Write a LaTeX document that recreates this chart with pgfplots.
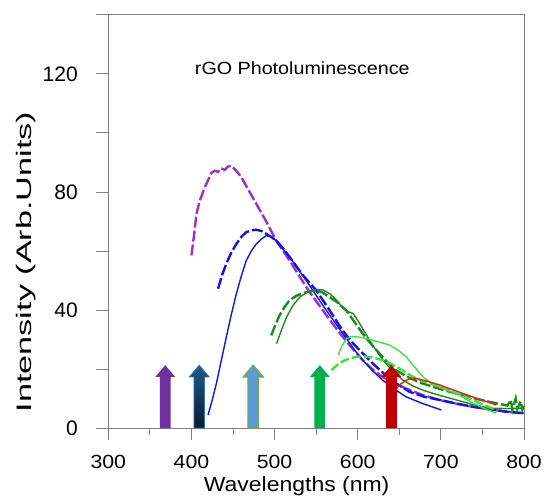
\documentclass[border=0pt]{standalone}
\usepackage{fontspec}
\setmainfont{Liberation Sans}
\newfontfamily\wide{Liberation Sans}[FakeStretch=1.12]
\usepackage{graphicx}
\usepackage{pgfplots}
\pgfplotsset{compat=1.18}
\definecolor{axgray}{HTML}{808080}
\definecolor{cpurple}{HTML}{9A2FD0}
\definecolor{cblue}{HTML}{1414E0}
\definecolor{cdgreen}{HTML}{1E8A1E}
\definecolor{clgreen}{HTML}{3FE03F}
\definecolor{cred}{HTML}{E02020}
\definecolor{apurple}{HTML}{7030A0}
\definecolor{anavyT}{HTML}{1F5A8A}
\definecolor{anavyB}{HTML}{0A1A32}
\definecolor{anavyE}{HTML}{3A75B0}
\definecolor{alblue}{HTML}{5B9BD5}
\definecolor{alborder}{HTML}{70AD47}
\definecolor{agreen}{HTML}{00B050}
\definecolor{ared}{HTML}{C00000}
\begin{document}
\begin{tikzpicture}
\begin{axis}[
  width=415.7pt, height=413pt, scale only axis,
  xmin=300, xmax=800, ymin=0, ymax=140,
  xtick={300,400,...,800}, minor xtick={350,450,...,750},
  ytick={0,20,...,140}, yticklabels={0,,40,,80,,120,},
  tick pos=left, tick align=outside,
  major tick length=12pt, minor tick length=7pt,
  axis line style={axgray, line width=1pt},
  every tick/.style={axgray, line width=1pt},
  /pgf/number format/assume math mode=true,
  xticklabel style={font=\wide\fontsize{19}{22}\selectfont, yshift=-12pt},
  yticklabel style={font=\fontsize{21}{25}\selectfont, xshift=-15pt},
  xlabel={\wide\fontsize{20.5}{24}\selectfont Wavelengths (nm)},
  xlabel style={at={(axis description cs:0.453,-0.141)}, anchor=center},
  ylabel={\scalebox{1.63}[1]{\fontsize{21}{25}\selectfont Intensity (Arb.Units)}},
  ylabel style={at={(axis description cs:-0.197,0.402)}, anchor=center},
]
% purple dashed
\addplot[cpurple, line width=2.4pt, dash pattern=on 11pt off 3pt] coordinates {
(400,58.5)(403,65)(406,72.6)(410,77)(416,81.6)(420,84)(424,86.5)(428,87.2)(432,86.8)(436,88)(440,87.5)(444,88.6)(448,88.9)(452,87.8)(456,86.5)(460,85)(467,81.5)(474,78)(482,74)(490,70)(502,63.5)(518,56.8)(528,52.3)(538,47.8)(548,43.8)(558,39.9)(570,35.3)(582,30.9)(594,26.8)(606,23)(618,19.8)(630,17.3)(644,15.2)(658,13.4)(678,11.2)(698,9.5)(718,8.3)(738,7.2)(758,6.3)(778,5.6)(798,5)
};
% blue dashed
\addplot[cblue, line width=2.4pt, dash pattern=on 11pt off 3pt] coordinates {
(432,47.2)(437,52)(442,55.7)(448,59.5)(454,62.4)(460,64.8)(466,66.4)(472,67)(478,67.2)(484,66.8)(490,65.8)(496,64.8)(502,63.5)(510,61)(518,58)(534,51.8)(550,46.7)(566,40)(582,33)(594,28.8)(606,25.3)(618,21.9)(630,18.8)(646,15.2)(662,12.3)(680,10.6)(699,9.5)(720,8.2)(739,7.2)(760,6.3)(780,5.5)(800,5)
};
% blue solid
\addplot[cblue, line width=1.4pt] coordinates {
(420,4.4)(425,9.5)(430,15.1)(436,23)(442,30.9)(448,38.5)(454,45.5)(460,51.5)(466,56.8)(472,60)(478,62.4)(484,64)(490,65.2)(496,64.8)(502,63.5)(518,58)(538,50)(558,41.6)(570,36.8)(582,32)(594,27.3)(606,23)(618,19.4)(630,16.2)(644,13.2)(658,10.6)(678,8.3)(700.7,6.1)
};
% dark green dashed
\addplot[cdgreen, line width=2.4pt, dash pattern=on 11pt off 3pt] coordinates {
(496,31.4)(501,35)(506,38.2)(512,41)(518,43.3)(526,44.8)(534,45.7)(542,46.3)(550,46.7)(558,45.9)(566,44.4)(576,42.5)(586,39.9)(596,36)(606,32)(616,28.5)(626,25.3)(636,22.2)(646,19.6)(662,17)(678,15.1)(698,13.3)(718,11.7)(738,10.2)(758,8.9)(770,8.2)(780,7.6)(784,9.5)(786,6.2)(790,10)(792,6.5)(796,9)(798,6.2)(800,7.5)
};
% dark green solid
\addplot[cdgreen, line width=1.4pt] coordinates {
(502.4,28.6)(508,33)(514.4,37.6)(522,41.5)(530.4,44.4)(540,46.2)(550.5,47)(558,46.8)(566.5,45.5)(574,43.5)(582.5,40.6)(588,39.5)(594.5,38.8)(600,36.5)(606.5,33.4)(618,28)(630.5,23)(642,19.3)(654.6,16.2)(666,14.3)(678.6,12.8)(698,11.1)(718.7,9.5)(738,8)(758.8,6.7)(780,6.6)(800,6.7)
};
% light green dashed
\addplot[clgreen, line width=2.4pt, dash pattern=on 9pt off 3pt] coordinates {
(568.5,19.6)(575,21.3)(582.5,22.7)(590,23.6)(598.5,24.1)(606,24.3)(614.5,24.1)(622,23.6)(630.5,23)(638,22)(646.6,20.8)(656,19.2)(666.6,17.3)(682,15.6)(698.7,14)(718,11.8)(738.7,9.5)(752,7.8)(766.8,6.1)
};
% light green solid
\addplot[clgreen, line width=1.4pt] coordinates {
(576.5,24.7)(581,27.8)(586.5,30.3)(592,31)(598.5,30.9)(608,30.5)(618.5,29.7)(628,29)(638.6,28.1)(648,26.5)(658.6,24.1)(668,20.8)(678.6,17.3)(688,15.4)(698.7,14)(708,12.8)(718.7,11.7)(728,10.2)(738.7,8.4)(752,6.7)(766.8,5)
};
% red solid
\addplot[cred, line width=1.4pt] coordinates {
(646.6,13.4)(652,15)(658.6,16.2)(664,16.8)(670.6,16.8)(684,15.8)(698.7,14.6)(712,13.2)(726.7,11.7)(746,9.8)(766.8,7.8)
};
% arrows
\addplot[fill=apurple, draw=none] coordinates {(362.1,0)(362.1,17.3)(356.5,17.3)(368.5,21.3)(380.5,17.3)(374.9,17.3)(374.9,0)} -- cycle;
\addplot[top color=anavyT, bottom color=anavyB, draw=anavyE, line width=0.8pt] coordinates {(403,0)(403,17.3)(397.4,17.3)(409.4,21.3)(421.4,17.3)(415.8,17.3)(415.8,0)} -- cycle;
\addplot[fill=alblue, draw=alborder, line width=1.2pt] coordinates {(467.9,0)(467.9,17.3)(462.3,17.3)(474.3,21.3)(486.3,17.3)(480.7,17.3)(480.7,0)} -- cycle;
\addplot[fill=agreen, draw=none] coordinates {(548,0)(548,17.3)(542.4,17.3)(554.4,21.3)(566.4,17.3)(560.8,17.3)(560.8,0)} -- cycle;
\addplot[fill=ared, draw=none] coordinates {(634.2,0)(634.2,17.3)(628.6,17.3)(640.6,21.3)(652.6,17.3)(647,17.3)(647,0)} -- cycle;
\node[font=\wide\fontsize{17.6}{21}\selectfont] at (axis cs:533.4,121.9) {rGO Photoluminescence};
\end{axis}
\pgfresetboundingbox
\path[use as bounding box] ([shift={(-108.3pt,-70pt)}]current axis.south west) rectangle ([shift={(20pt,15pt)}]current axis.north east);
\end{tikzpicture}
\end{document}
